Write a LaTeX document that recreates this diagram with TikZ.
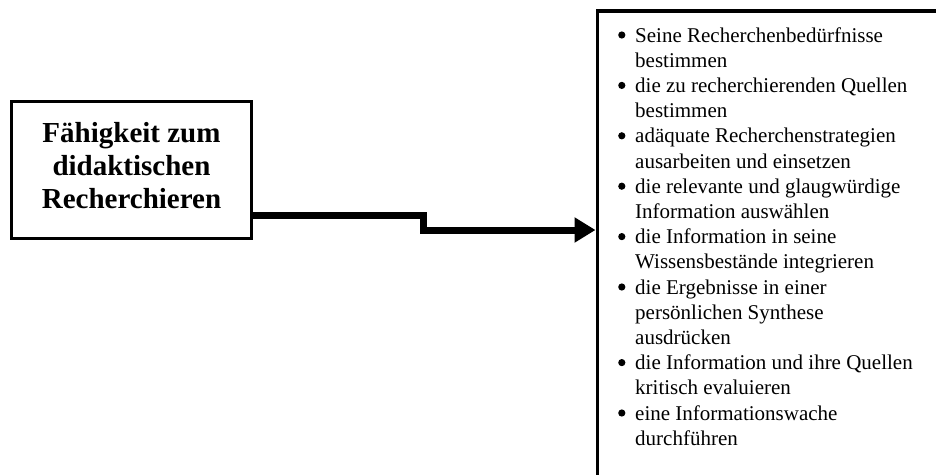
\documentclass[tikz,border=0pt]{standalone}
\usepackage{fontspec}
\setmainfont{Liberation Serif}
\usetikzlibrary{arrows.meta}

% round list marker, centred 7pt above the baseline
\newcommand\listdot{\tikz[baseline=0pt]\fill (0,7pt) circle (3.6pt);}
\newcommand\bitem[1]{\makebox[17pt][l]{\listdot} & #1}

\begin{document}
\begin{tikzpicture}[x=1pt,y=-1pt,
  titlebox/.style={draw, line width=3pt, minimum width=240pt, minimum height=137pt,
    inner sep=0pt, align=center, text depth=10pt,
    font=\fontsize{29}{33}\selectfont\bfseries},
  panel/.style={draw, line width=3.5pt, minimum width=400pt, minimum height=520pt,
    anchor=north west, inner sep=0pt},
  conn/.style={line width=7pt, line join=miter,
    -{Triangle[length=21pt,width=24pt]}},
  itemlist/.style={anchor=base west, inner sep=0pt,
    font=\fontsize{21}{25.2}\selectfont}]
\useasboundingbox (0,0) rectangle (936,474);
\clip (0,0) rectangle (936,474);

% left: the competence
\node[titlebox] (src) at (131.5,170) {F\"ahigkeit zum\\didaktischen\\Recherchieren};

% right: open frame holding the list of sub-skills
\node[panel] (panel) at (595.5,9) {};
\node[itemlist] (items) at (618,42) {%
  \setlength\tabcolsep{0pt}%
  \begin{tabular}[t]{@{}l@{}l@{}}
  \bitem{Seine Recherchenbed\"urfnisse}\\
  & bestimmen\\
  \bitem{die zu recherchierenden Quellen}\\
  & bestimmen\\
  \bitem{ad\"aquate Recherchenstrategien}\\
  & ausarbeiten und einsetzen\\
  \bitem{die relevante und glaugw\"urdige}\\
  & Information ausw\"ahlen\\
  \bitem{die Information in seine}\\
  & Wissensbest\"ande integrieren\\
  \bitem{die Ergebnisse in einer}\\
  & pers\"onlichen Synthese\\
  & ausdr\"ucken\\
  \bitem{die Information und ihre Quellen}\\
  & kritisch evaluieren\\
  \bitem{eine Informationswache}\\
  & durchf\"uhren
  \end{tabular}};

% stepped connector
\draw[conn] (src.east |- 0,215) -- (423,215) -- (423,230) -- (panel.west |- 0,230);
\end{tikzpicture}
\end{document}
